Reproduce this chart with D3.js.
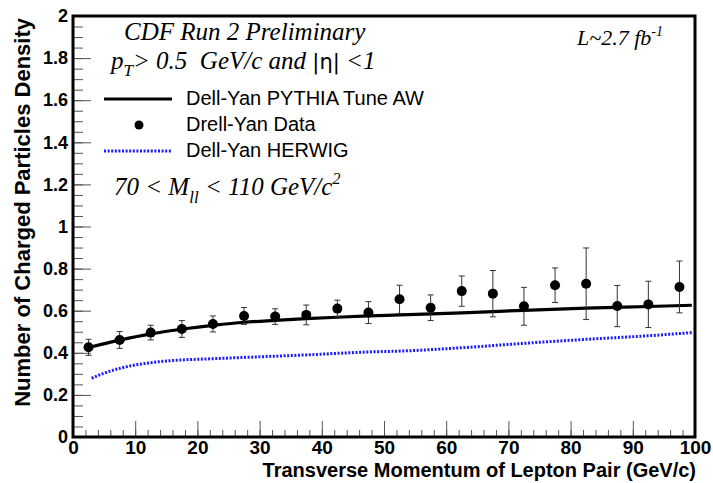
<!DOCTYPE html>
<html lang="en">
<head>
<meta charset="UTF-8"/>
<title>Charged particle density vs lepton pair pT</title>
<script src="https://d3js.org/d3.v7.min.js"></script>
<style>
  body { margin: 0; background: #fff; }
  .axis path { display: none; }
  .ytick text { font: bold 18px "Liberation Sans", Arial, sans-serif; fill: #000; }
  .xtick text { font: bold 19px "Liberation Sans Narrow", "Liberation Sans", Arial, sans-serif; fill: #000; }
  .axis line { stroke: #555; }
  .title { font: bold 20px "Liberation Sans", Arial, sans-serif; }
  .note { font: italic 25px "Liberation Serif", "Times New Roman", serif; white-space: pre; }
  .leg { font: 20px "Liberation Sans", Arial, sans-serif; }
</style>
</head>
<body>
<svg id="chart" width="713" height="483"></svg>
<script>
// data points: Drell-Yan data, 5 GeV bins
const ptBins = [2.5, 7.5, 12.5, 17.5, 22.5, 27.5, 32.5, 37.5, 42.5, 47.5,
                52.5, 57.5, 62.5, 67.5, 72.5, 77.5, 82.5, 87.5, 92.5, 97.5];
const dataVal = [0.426, 0.461, 0.496, 0.513, 0.537, 0.575, 0.572, 0.580, 0.610, 0.591,
                 0.654, 0.614, 0.693, 0.681, 0.621, 0.721, 0.728, 0.622, 0.630, 0.713];
const dataErr = [0.038, 0.040, 0.035, 0.040, 0.038, 0.040, 0.037, 0.047, 0.040, 0.052,
                 0.067, 0.061, 0.072, 0.110, 0.090, 0.082, 0.170, 0.098, 0.110, 0.123];

// PYTHIA Tune AW curve
const pyPt  = [2.5, 7.5, 12.5, 17.5, 22.5, 27.5, 32.5, 37.5, 42.5, 47.5, 52.5, 62.5, 72.5, 82.5, 92.5, 99.5];
const pyVal = [0.425, 0.460, 0.490, 0.512, 0.530, 0.545, 0.554, 0.562, 0.569, 0.575, 0.580, 0.590, 0.602, 0.612, 0.620, 0.626];

// HERWIG curve
const hwPt  = [3, 5, 7.5, 10, 12.5, 15, 17.5, 22.5, 27.5, 37.5, 47.5, 52.5, 62.5, 72.5, 82.5, 92.5, 99.5];
const hwVal = [0.279, 0.303, 0.326, 0.342, 0.353, 0.361, 0.366, 0.372, 0.378, 0.390, 0.404, 0.408, 0.424, 0.445, 0.464, 0.481, 0.496];

const xTicks = d3.range(0, 101, 10);
const yTicks = [0, 0.2, 0.4, 0.6, 0.8, 1, 1.2, 1.4, 1.6, 1.8, 2];

const svg = d3.select('#chart');
const x = d3.scaleLinear().domain([0, 100]).range([73, 695]);
const y = d3.scaleLinear().domain([0, 2]).range([437, 16]);

// minor ticks
svg.append('g').attr('class', 'axis')
  .attr('transform', 'translate(73,0)')
  .call(d3.axisLeft(y).tickValues(d3.range(0, 2.001, 0.05)).tickSize(-10).tickFormat(''));
svg.append('g').attr('class', 'axis')
  .attr('transform', 'translate(0,437)')
  .call(d3.axisBottom(x).tickValues(d3.range(0, 100.1, 2)).tickSize(-7).tickFormat(''));

// major ticks + labels
svg.append('g').attr('class', 'axis ytick')
  .attr('transform', 'translate(73,0)')
  .call(d3.axisLeft(y).tickValues(yTicks).tickSize(-18).tickPadding(5).tickFormat(d3.format('')));
svg.append('g').attr('class', 'axis xtick')
  .attr('transform', 'translate(0,437)')
  .call(d3.axisBottom(x).tickValues(xTicks).tickSize(-16).tickPadding(3).tickFormat(d3.format('d')));

// frame
svg.append('rect')
  .attr('x', x(0)).attr('y', y(2))
  .attr('width', x(100) - x(0)).attr('height', y(0) - y(2))
  .attr('fill', 'none').attr('stroke', '#000').attr('stroke-width', 3);

// axis titles
svg.append('text').attr('class', 'title')
  .attr('x', 696).attr('y', 477).attr('text-anchor', 'end')
  .text('Transverse Momentum of Lepton Pair (GeV/c)');
svg.append('text').attr('class', 'title')
  .attr('transform', 'translate(30,18) rotate(-90)')
  .attr('text-anchor', 'end').style('font-size', '22px')
  .text('Number of Charged Particles Density');

// curves
const line = d3.line().curve(d3.curveMonotoneX);
svg.append('path')
  .attr('d', line(hwPt.map((p, i) => [x(p), y(hwVal[i])])))
  .attr('fill', 'none').attr('stroke', '#1a1aff').attr('stroke-width', 3)
  .attr('stroke-dasharray', '2,1.6');
svg.append('path')
  .attr('d', line(pyPt.map((p, i) => [x(p), y(pyVal[i])])))
  .attr('fill', 'none').attr('stroke', '#000').attr('stroke-width', 3.2);

// data with error bars
const pts = svg.append('g');
ptBins.forEach((p, i) => {
  const cx = x(p), lo = y(dataVal[i] - dataErr[i]), hi = y(dataVal[i] + dataErr[i]);
  pts.append('line').attr('x1', cx).attr('x2', cx).attr('y1', lo).attr('y2', hi)
    .attr('stroke', '#333').attr('stroke-width', 1);
  [lo, hi].forEach(v => pts.append('line')
    .attr('x1', cx - 3).attr('x2', cx + 3).attr('y1', v).attr('y2', v)
    .attr('stroke', '#333').attr('stroke-width', 1));
  pts.append('circle').attr('cx', cx).attr('cy', y(dataVal[i])).attr('r', 5).attr('fill', '#000');
});

// annotations
svg.append('text').attr('class', 'note').attr('x', 124).attr('y', 40).text('CDF Run 2 Preliminary');
const pt = svg.append('text').attr('class', 'note').attr('x', 111).attr('y', 69);
pt.append('tspan').text('p');
pt.append('tspan').attr('dy', 7).attr('font-size', 17).text('T');
pt.append('tspan').attr('dy', -7).text('> 0.5  GeV/c and ');
pt.append('tspan').attr('font-style', 'normal').attr('font-family', 'DejaVu Sans').attr('font-size', 21).text('|η|');
pt.append('tspan').text(' <1');

const lum = svg.append('text').attr('class', 'note').attr('x', 577).attr('y', 45).style('font-size', '22px');
lum.append('tspan').text('L~2.7 fb');
lum.append('tspan').attr('dy', -9).attr('font-size', 14).text('-1');

const mass = svg.append('text').attr('class', 'note').attr('x', 114).attr('y', 195);
mass.append('tspan').text('70 < M');
mass.append('tspan').attr('dy', 8).attr('font-size', 17).text('ll');
mass.append('tspan').attr('dy', -8).text(' < 110 GeV/c');
mass.append('tspan').attr('dy', -11).attr('font-size', 16).text('2');

// legend
svg.append('line').attr('x1', 104).attr('x2', 172).attr('y1', 99).attr('y2', 99)
  .attr('stroke', '#000').attr('stroke-width', 3.2);
svg.append('text').attr('class', 'leg').attr('x', 186).attr('y', 105).text('Dell-Yan PYTHIA Tune AW');
svg.append('circle').attr('cx', 139).attr('cy', 125).attr('r', 4.5).attr('fill', '#000');
svg.append('text').attr('class', 'leg').attr('x', 186).attr('y', 131).text('Drell-Yan Data');
svg.append('line').attr('x1', 104).attr('x2', 172).attr('y1', 151).attr('y2', 151)
  .attr('stroke', '#1a1aff').attr('stroke-width', 3).attr('stroke-dasharray', '2,1.6');
svg.append('text').attr('class', 'leg').attr('x', 186).attr('y', 157).text('Dell-Yan HERWIG');
</script>
</body>
</html>
